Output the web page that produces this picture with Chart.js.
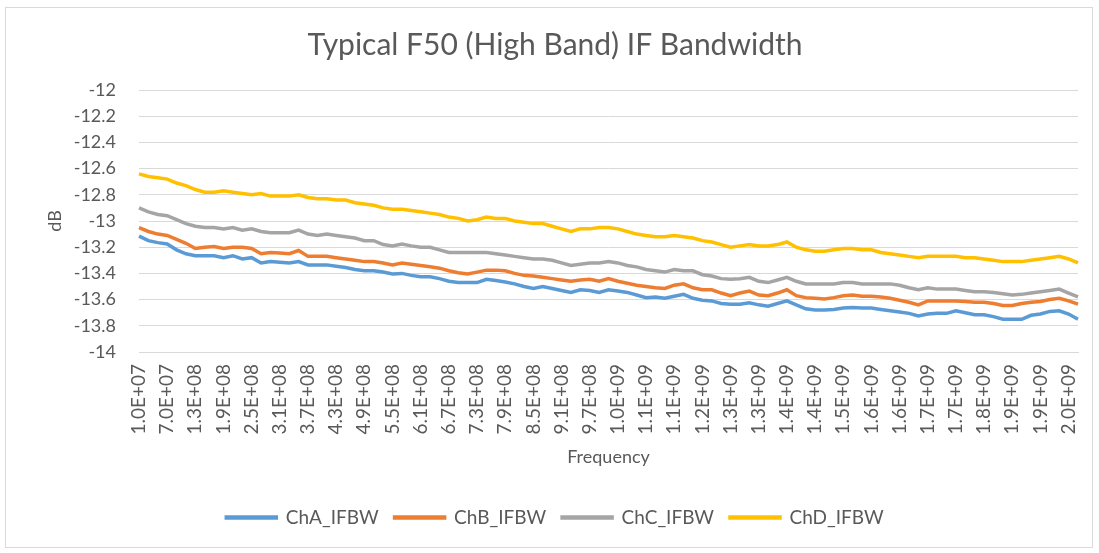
<!DOCTYPE html>
<html>
<head>
<meta charset="utf-8">
<title>Typical F50 (High Band) IF Bandwidth</title>
<script src="https://cdn.jsdelivr.net/npm/chart.js@4/dist/chart.umd.min.js"></script>
<style>
  html, body { margin: 0; padding: 0; background: #fff; }
  #wrap { width: 1099px; height: 553px; position: relative; }
</style>
</head>
<body>
<div id="wrap"><canvas id="ifbwChart"></canvas></div>
<script>
// frequency tick labels, one every 3rd point (points are 20 MHz apart)
const tickLabels = ["1.0E+07", "7.0E+07", "1.3E+08", "1.9E+08", "2.5E+08", "3.1E+08", "3.7E+08",
    "4.3E+08", "4.9E+08", "5.5E+08", "6.1E+08", "6.7E+08", "7.3E+08", "7.9E+08", "8.5E+08",
    "9.1E+08", "9.7E+08", "1.0E+09", "1.1E+09", "1.1E+09", "1.2E+09", "1.3E+09", "1.3E+09",
    "1.4E+09", "1.4E+09", "1.5E+09", "1.6E+09", "1.6E+09", "1.7E+09", "1.7E+09", "1.8E+09",
    "1.9E+09", "1.9E+09", "2.0E+09"];
const labelStep = 3;

const chA = [-13.115, -13.15, -13.165, -13.175, -13.22, -13.25, -13.265, -13.265, -13.265, -13.28,
    -13.265, -13.29, -13.28, -13.32, -13.31, -13.315, -13.32, -13.31, -13.335, -13.335,
    -13.335, -13.345, -13.355, -13.37, -13.38, -13.38, -13.39, -13.405, -13.40, -13.415,
    -13.425, -13.425, -13.44, -13.46, -13.47, -13.47, -13.47, -13.445, -13.455, -13.465,
    -13.48, -13.50, -13.515, -13.50, -13.515, -13.53, -13.545, -13.525, -13.53, -13.545,
    -13.525, -13.535, -13.545, -13.565, -13.585, -13.58, -13.59, -13.575, -13.56, -13.59,
    -13.605, -13.61, -13.63, -13.635, -13.635, -13.625, -13.64, -13.65, -13.63, -13.61,
    -13.64, -13.67, -13.68, -13.68, -13.675, -13.665, -13.66, -13.665, -13.665, -13.675,
    -13.685, -13.695, -13.705, -13.725, -13.71, -13.705, -13.705, -13.685, -13.70, -13.715,
    -13.715, -13.73, -13.75, -13.75, -13.75, -13.72, -13.71, -13.69, -13.685, -13.71, -13.75];

const chB = [-13.05, -13.08, -13.10, -13.11, -13.14, -13.17, -13.21, -13.20, -13.195, -13.21,
    -13.20, -13.20, -13.21, -13.25, -13.24, -13.245, -13.25, -13.225, -13.27, -13.27,
    -13.27, -13.28, -13.29, -13.30, -13.31, -13.31, -13.32, -13.335, -13.32, -13.33,
    -13.34, -13.35, -13.36, -13.38, -13.395, -13.405, -13.39, -13.375, -13.375, -13.38,
    -13.40, -13.415, -13.42, -13.43, -13.44, -13.45, -13.46, -13.45, -13.445, -13.46,
    -13.44, -13.46, -13.475, -13.49, -13.50, -13.51, -13.515, -13.49, -13.48, -13.51,
    -13.525, -13.525, -13.55, -13.57, -13.55, -13.535, -13.565, -13.57, -13.55, -13.525,
    -13.57, -13.585, -13.59, -13.595, -13.585, -13.57, -13.565, -13.575, -13.575, -13.58,
    -13.59, -13.605, -13.62, -13.64, -13.61, -13.61, -13.61, -13.61, -13.615, -13.62,
    -13.62, -13.63, -13.645, -13.645, -13.63, -13.62, -13.615, -13.60, -13.59, -13.61, -13.635];

const chC = [-12.90, -12.93, -12.95, -12.96, -12.99, -13.02, -13.04, -13.05, -13.05, -13.06,
    -13.05, -13.07, -13.06, -13.08, -13.09, -13.09, -13.09, -13.07, -13.10, -13.11,
    -13.10, -13.11, -13.12, -13.13, -13.15, -13.15, -13.18, -13.19, -13.175, -13.19,
    -13.20, -13.20, -13.22, -13.24, -13.24, -13.24, -13.24, -13.24, -13.25, -13.26,
    -13.27, -13.28, -13.29, -13.29, -13.30, -13.32, -13.34, -13.33, -13.32, -13.32,
    -13.31, -13.32, -13.34, -13.35, -13.37, -13.38, -13.39, -13.37, -13.38, -13.38,
    -13.41, -13.42, -13.44, -13.445, -13.44, -13.43, -13.46, -13.47, -13.45, -13.43,
    -13.46, -13.48, -13.48, -13.48, -13.48, -13.47, -13.47, -13.48, -13.48, -13.48,
    -13.48, -13.49, -13.51, -13.525, -13.51, -13.52, -13.52, -13.52, -13.53, -13.54,
    -13.54, -13.545, -13.555, -13.565, -13.56, -13.55, -13.54, -13.53, -13.52, -13.55, -13.58];

const chD = [-12.64, -12.66, -12.67, -12.68, -12.71, -12.73, -12.76, -12.78, -12.78, -12.77,
    -12.78, -12.79, -12.80, -12.79, -12.81, -12.81, -12.81, -12.80, -12.82, -12.83,
    -12.83, -12.84, -12.84, -12.86, -12.87, -12.88, -12.90, -12.91, -12.91, -12.92,
    -12.93, -12.94, -12.95, -12.97, -12.98, -13.00, -12.99, -12.97, -12.98, -12.98,
    -13.00, -13.01, -13.02, -13.02, -13.04, -13.06, -13.08, -13.06, -13.06, -13.05,
    -13.05, -13.06, -13.08, -13.10, -13.11, -13.12, -13.12, -13.11, -13.12, -13.13,
    -13.15, -13.16, -13.18, -13.20, -13.19, -13.18, -13.19, -13.19, -13.18, -13.16,
    -13.20, -13.22, -13.23, -13.23, -13.22, -13.21, -13.21, -13.22, -13.22, -13.24,
    -13.25, -13.26, -13.27, -13.28, -13.27, -13.27, -13.27, -13.27, -13.28, -13.28,
    -13.29, -13.30, -13.31, -13.31, -13.31, -13.30, -13.29, -13.28, -13.27, -13.29, -13.32];

const seriesNames = ["ChA_IFBW", "ChB_IFBW", "ChC_IFBW", "ChD_IFBW"];
const seriesColors = ["#5B9BD5", "#ED7D31", "#A5A5A5", "#FFC000"];

// category per data point, labelled every 3rd point
const categories = chA.map((v, i) => i % labelStep === 0 ? (tickLabels[i / labelStep] || "") : "");

const FONT = "Lato, 'Open Sans', sans-serif";
const TEXT = "#595959";
const GRID = "#d9d9d9";

// white background plus the thin chart-area border
const frame = {
    id: 'frame',
    beforeDraw(chart) {
        const c = chart.ctx;
        c.save();
        c.fillStyle = '#fff';
        c.fillRect(0, 0, chart.width, chart.height);
        c.strokeStyle = GRID;
        c.lineWidth = 1;
        c.strokeRect(5.5, 7.5, 1087, 540);
        c.restore();
    }
};

const datasets = [chA, chB, chC, chD].map((vals, k) => ({
    label: seriesNames[k],
    data: vals,
    borderColor: seriesColors[k],
    backgroundColor: seriesColors[k],
    borderWidth: 3.5,
    pointRadius: 0,
    tension: 0,
    order: 4 - k
}));

const ctx = document.getElementById("ifbwChart").getContext('2d');
const ifbwChart = new Chart(ctx, {
    type: 'line',
    data: { labels: categories, datasets: datasets },
    options: {
        responsive: true,
        maintainAspectRatio: false,
        animation: false,
        layout: { padding: { left: 32, right: 21, top: 0, bottom: 16 } },
        plugins: {
            title: {
                display: true,
                text: "Typical F50 (High Band) IF Bandwidth",
                color: TEXT,
                font: { family: FONT, size: 30, weight: 'normal' },
                padding: { top: 27, bottom: 27 }
            },
            legend: {
                position: 'bottom',
                labels: {
                    color: TEXT,
                    font: { family: FONT, size: 19 },
                    boxWidth: 50,
                    boxHeight: 1,
                    padding: 16,
                    sort: (a, b) => a.datasetIndex - b.datasetIndex
                }
            },
            tooltip: { enabled: false }
        },
        scales: {
            x: {
                offset: false,
                grid: { display: false, drawTicks: false },
                border: { display: true, color: GRID, width: 1 },
                ticks: {
                    autoSkip: false,
                    maxRotation: 90,
                    minRotation: 90,
                    padding: 12,
                    color: TEXT,
                    font: { family: FONT, size: 19 }
                },
                title: {
                    display: true,
                    text: "Frequency",
                    color: TEXT,
                    font: { family: FONT, size: 18 },
                    padding: { top: 0, bottom: 24 }
                },
                afterFit(scale) {
                    scale.height = 140;
                    scale.paddingLeft = 0;
                    scale.paddingRight = 0;
                }
            },
            y: {
                min: -14,
                max: -12,
                grid: { color: GRID, lineWidth: 1, drawTicks: false },
                border: { display: false },
                ticks: {
                    stepSize: 0.2,
                    padding: 23,
                    color: TEXT,
                    font: { family: FONT, size: 18 },
                    callback: (v) => String(Number(v.toFixed(1)))
                },
                title: {
                    display: true,
                    text: "dB",
                    color: TEXT,
                    font: { family: FONT, size: 18 },
                    padding: { top: 12, bottom: 0 }
                },
                afterFit(scale) { scale.width = 107; }
            }
        }
    },
    plugins: [frame]
});
</script>
</body>
</html>
